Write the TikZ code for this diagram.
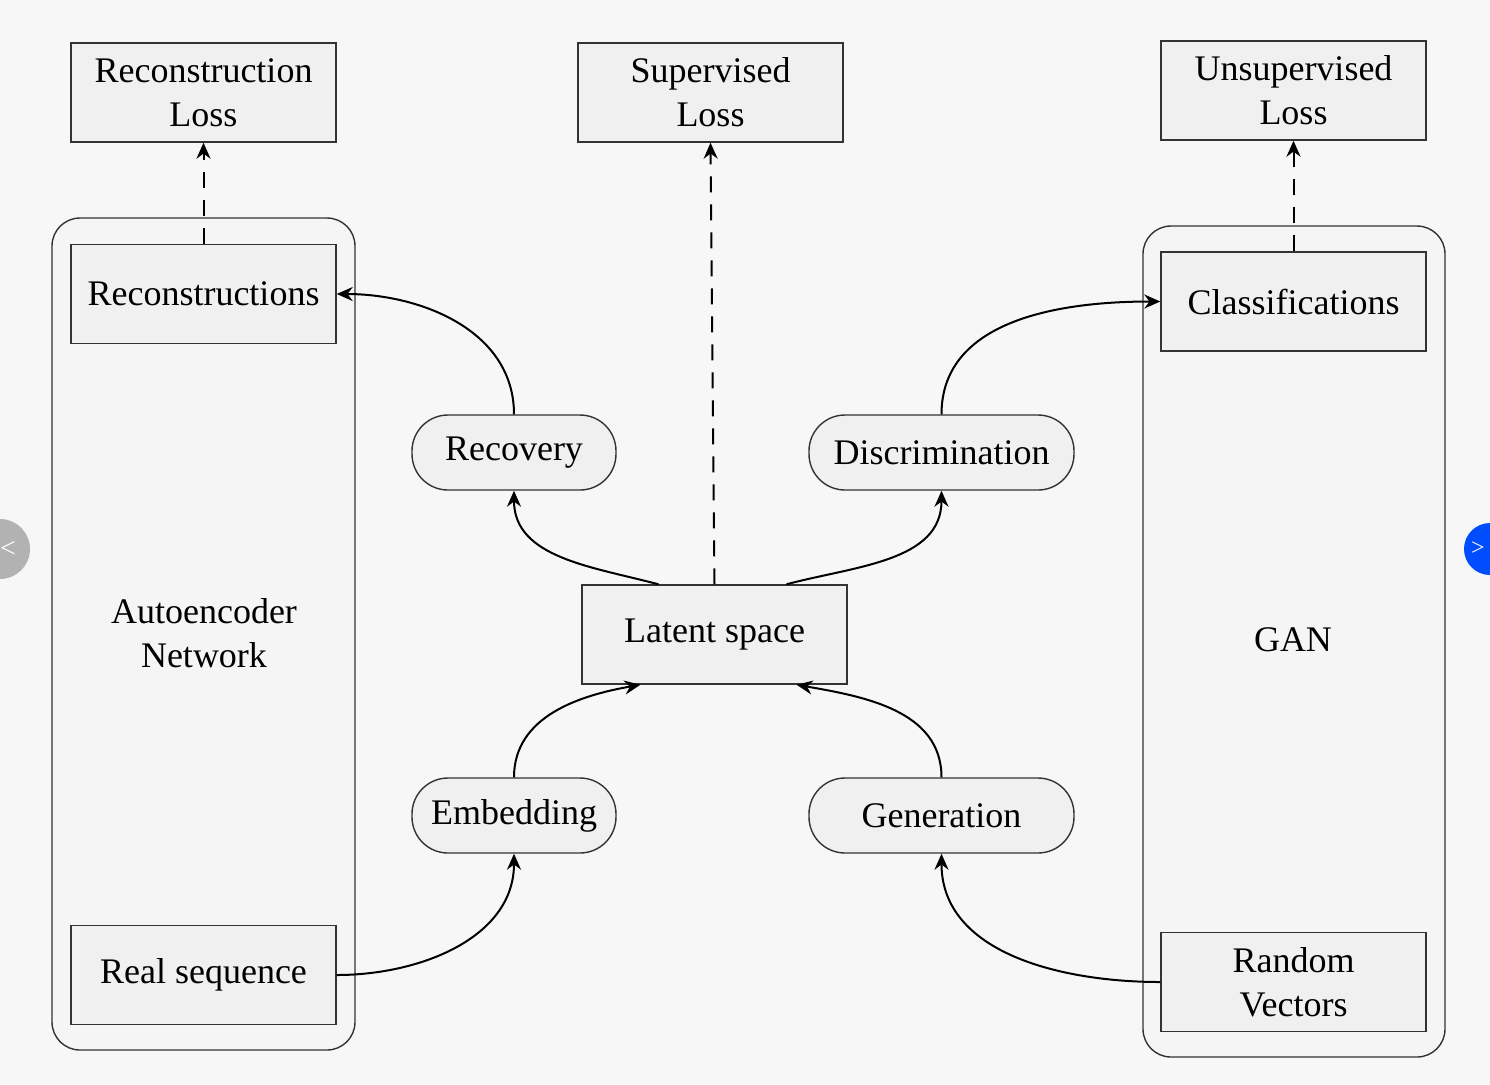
\documentclass[tikz,border=0pt]{standalone}
\usepackage{fontspec}
\setmainfont{Liberation Serif}
\usetikzlibrary{arrows.meta}
\begin{document}
\begin{tikzpicture}[x=0.5pt,y=-0.5pt,
  every node/.style={font=\fontsize{18}{22}\selectfont, align=center},
  box/.style={draw=black!80, line width=0.7pt, fill=black!6, inner sep=0pt, minimum width=132.5pt, minimum height=49.5pt},
  pill/.style={draw=black!80, line width=0.7pt, fill=black!6, rounded corners=18pt, inner sep=0pt, minimum height=37.5pt},
  cont/.style={draw=black!80, line width=0.7pt, rounded corners=14pt},
  arr/.style={-{Stealth[length=8pt,width=7pt]}, line width=1pt},
  dasharr/.style={arr, dash pattern=on 8pt off 6pt}]
\fill[black!3] (0,0) rectangle (1490,1084);
\useasboundingbox (0,0) rectangle (1490,1084);
% containers
\draw[cont, fill=black!4] (52,218) rectangle (355,1050);
\draw[cont, fill=black!4] (1143,226) rectangle (1445,1057);
\node (ae) at (204,633) {Autoencoder\\[0pt]Network};
\node (gan) at (1293,640) {GAN};
% boxes
\node[box] (rl) at (203.5,92.5) {Reconstruction\\[0pt]Loss};
\node[box] (sl) at (710.5,92.5) {Supervised\\[0pt]Loss};
\node[box] (ul) at (1293.5,90.5) {Unsupervised\\[0pt]Loss};
\node[box] (rec) at (203.5,294) {Reconstructions};
\node[box] (rs) at (203.5,975) {Real sequence};
\node[box] (cls) at (1293.5,301.5) {Classifications};
\node[box] (rv) at (1293.5,982) {Random\\[0pt]Vectors};
\node[box] (lat) at (714.5,634.5) {Latent space};
% pills
\node[pill, minimum width=102pt] (recov) at (514,452.5) {Recovery};
\node[pill, minimum width=132.5pt] (disc) at (941.5,452.5) {Discrimination};
\node[pill, minimum width=102pt] (emb) at (514,815.5) {Embedding};
\node[pill, minimum width=132.5pt] (gen) at (941.5,815.5) {Generation};
% nav circles
\fill[black!30] (0,549) circle (15pt);
\node[text=white, font=\fontsize{14}{14}\selectfont] (pl) at (8,549) {\textless};
\fill[blue!70!cyan] (1490,549) circle (13pt);
\node[text=white, font=\fontsize{12}{12}\selectfont] (pr) at (1478,549) {\textgreater};
% dashed
\draw[dasharr] (rec.north) -- (rl.south);
\draw[dasharr] (lat.north) -- (sl.south);
\draw[dasharr] (cls.north) -- (ul.south);
% curves
\draw[arr] (recov.north) to[out=90,in=0] (rec.east);
\draw[arr] (disc.north) to[out=90,in=180] (cls.west);
\draw[arr] ([xshift=-28pt]lat.north) to[out=165,in=-90] (recov.south);
\draw[arr] ([xshift=36pt]lat.north) to[out=15,in=-90] (disc.south);
\draw[arr] (emb.north) to[out=90,in=190] ([xshift=-37pt]lat.south);
\draw[arr] (gen.north) to[out=90,in=-10] ([xshift=41pt]lat.south);
\draw[arr] (rs.east) to[out=0,in=-90] (emb.south);
\draw[arr] (rv.west) to[out=180,in=-90] (gen.south);
\end{tikzpicture}
\end{document}
